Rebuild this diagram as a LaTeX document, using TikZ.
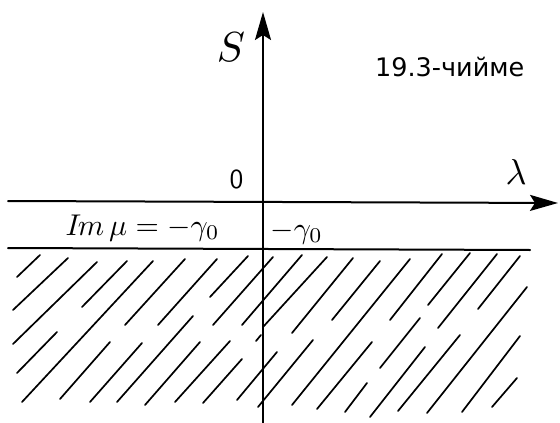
\documentclass[tikz,border=0pt]{standalone}
\usepackage{fontspec}
\newfontfamily\cyrfont{DejaVu Sans}
\usetikzlibrary{arrows.meta}

\begin{document}
\begin{tikzpicture}[x=1pt, y=-1pt, line cap=round, line join=round,
    axisline/.style={line width=2.0pt},
    hatchline/.style={line width=1.7pt},
    axistip/.style={-{Stealth[length=28pt,width=16pt,inset=5pt]}},
    lbl/.style={anchor=center,inner sep=0pt}]

  %% ════ axes ════
  \coordinate (xL) at (8,201);
  \coordinate (xR) at (558,203);
  \coordinate (yB) at (263,423);
  \coordinate (yT) at (263,12);
  \coordinate (gL) at (8,248);
  \coordinate (gR) at (530,250);

  \draw[axisline,axistip] (xL) -- (xR);
  \draw[axisline,axistip] (yB) -- (yT);
  \draw[axisline] (gL) -- (gR);

  %% ════ hatching (hand-drawn strokes, measured) ════
  \foreach \xa/\ya/\xb/\yb in {
      17/277/40/255, 13/310/68/258, 13/344/97/262, 82/307/127/261,
      17/373/57/332, 22/402/153/261, 60/399/110/342, 90/402/142/343,
      117/402/193/316, 125/325/185/259, 158/325/217/259, 210/297/248/256,
      213/325/273/257, 242/325/302/255, 263/327/327/257, 292/333/353/258,
      332/320/380/261, 145/405/200/342, 175/402/230/341, 203/403/242/359,
      237/400/277/352, 256/341/261/335, 258/407/313/340, 292/405/410/259,
      317/409/372/342, 345/412/367/383, 370/417/425/347, 380/368/420/318,
      390/320/442/254, 428/305/470/253, 438/328/497/254, 478/309/520/256,
      398/411/460/335, 427/413/527/287, 462/412/520/336, 492/407/517/378}
    \draw[hatchline] (\xa,\ya) -- (\xb,\yb);

  %% ════ labels (scaled as a whole) ════
  \node[lbl,scale=4.2] (sLbl) at (231,47) {$S$};          % box(223,32,17,33)
  \node[lbl,scale=3.6] (lamLbl) at (516,172) {$\lambda$}; % box(505,158,22,27)
  \node[lbl,scale=2.75] (zeroLbl) at (236.5,179) {\textsf{0}}; % box(230,170,13,18)
  \node[anchor=base west,inner sep=0pt,scale=3.0] (imLbl) at (65,235)
    {$I\mkern-2mu m\,\mu=-\gamma_0$};
  \node[anchor=base west,inner sep=0pt,scale=3.0] (gamLbl) at (270,238)
    {$-\gamma_0$};
  \node[anchor=base west,inner sep=0pt,font=\cyrfont\fontsize{25.5}{30}\selectfont] (figLbl) at (375,76)
    {19.3-чийме};

  % fix canvas
  \pgfresetboundingbox
  \path[use as bounding box] (0,0) rectangle (560,423);
\end{tikzpicture}
\end{document}
